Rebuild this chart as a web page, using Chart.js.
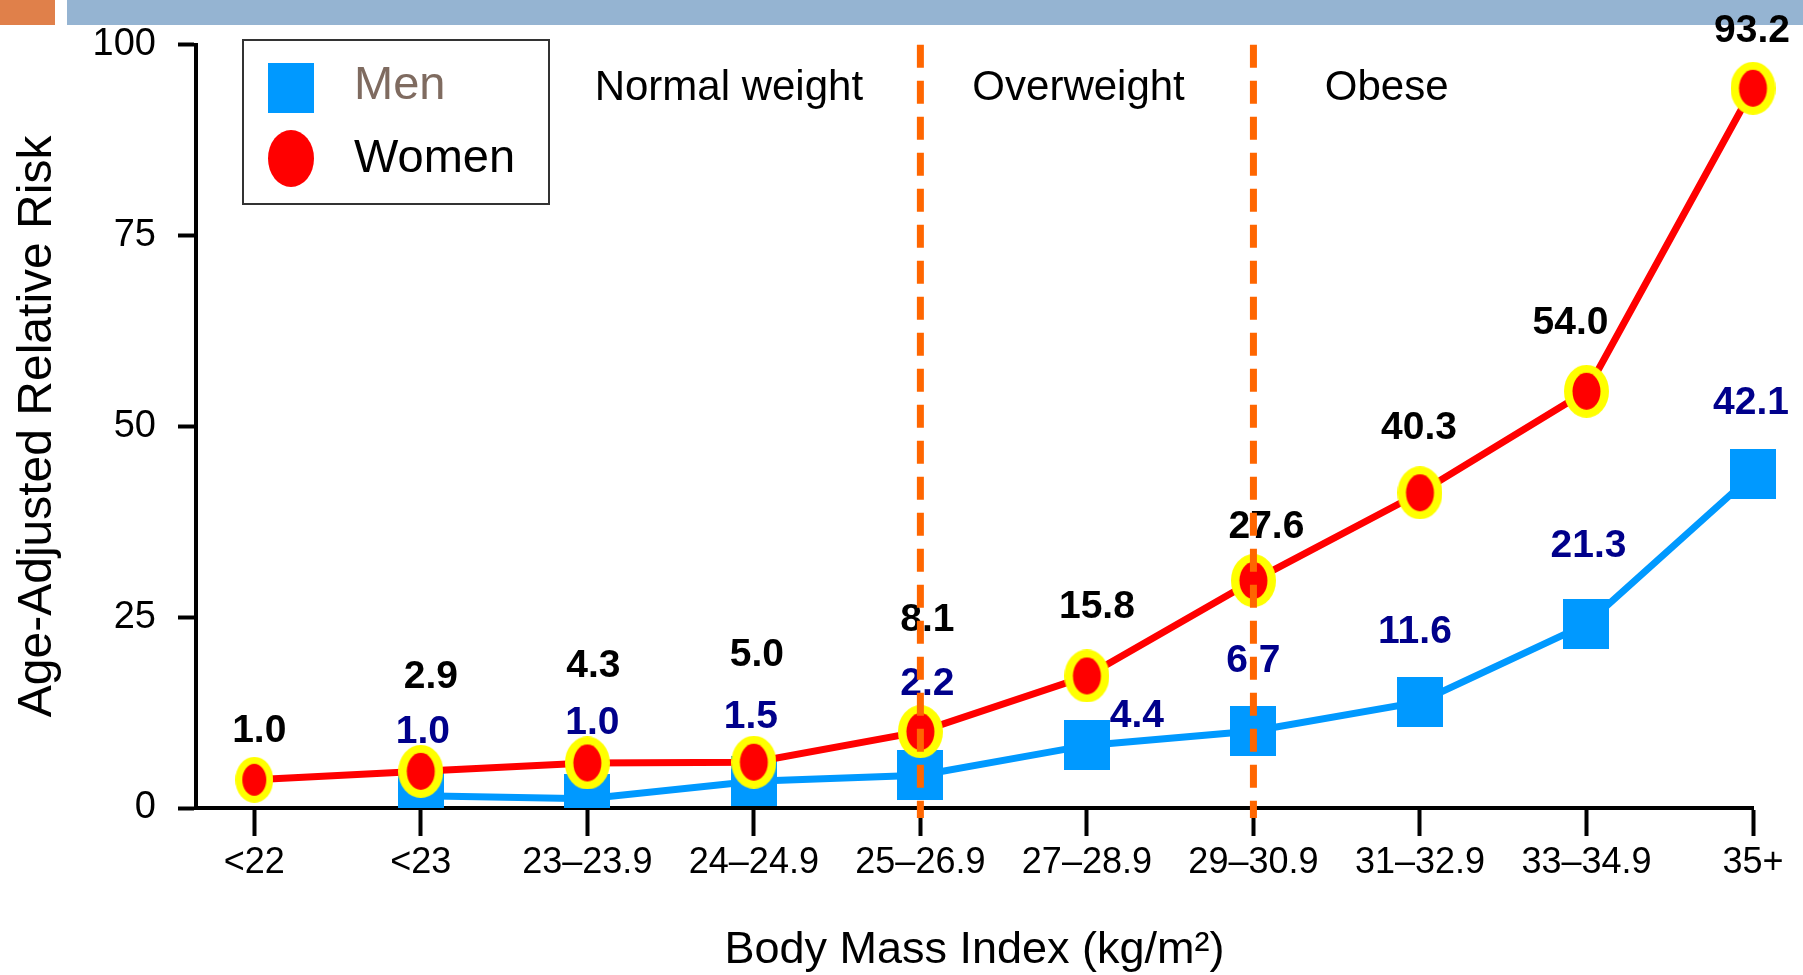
<!DOCTYPE html>
<html>
<head>
<meta charset="utf-8">
<title>BMI and relative risk</title>
<script src="https://cdn.jsdelivr.net/npm/chart.js@4.4.1/dist/chart.umd.min.js"></script>
<style>
    html, body { margin: 0; padding: 0; background: #ffffff; }
    #riskChart { display: block; }
</style>
</head>
<body>
<canvas id="riskChart" width="1803" height="975"></canvas>
<script>
const categories = ['<22', '<23', '23–23.9', '24–24.9', '25–26.9', '27–28.9', '29–30.9', '31–32.9', '33–34.9', '35+'];
// heights as plotted in the picture
const womenRisk = [3.7, 4.8, 5.9, 6.0, 10.0, 17.3, 29.8, 41.3, 54.6, 94.3];
const menRisk = [null, 1.6, 1.2, 3.5, 4.3, 8.2, 10.1, 13.9, 24.1, 43.7];
// printed numbers
const womenLabels = ['1.0', '2.9', '4.3', '5.0', '8.1', '15.8', '27.6', '40.3', '54.0', '93.2'];
const menLabels = [null, '1.0', '1.0', '1.5', '2.2', '4.4', '6.7', '11.6', '21.3', '42.1'];
const yTicks = [0, 25, 50, 75, 100];
const zoneNames = ['Normal weight', 'Overweight', 'Obese'];
const zoneBounds = [4, 6];

// layout / style
const FONT = "'Liberation Sans', Arial, sans-serif";
const zoneCenters = [2.85, 4.95, 6.8];
const womenLabelShift = [[5, -49], [10, -94], [6, -97], [3, -107], [7, -111], [10, -69], [13, -53], [-1, -65], [-16, -68], [-1, -57]];
const menLabelShift = [null, [2, -64], [5, -76], [-3, -64], [7, -91], [50, -29], [0, -70], [-5, -70], [2, -78], [-2, -71]];

function makeWomenMarker(w, h, inW, inH, border) {
    const c = document.createElement('canvas');
    c.width = w;
    c.height = h;
    const g = c.getContext('2d');
    if (border) {
        g.fillStyle = '#ffff00';
        g.beginPath();
        g.ellipse(w / 2, h / 2, w / 2, h / 2, 0, 0, Math.PI * 2);
        g.fill();
    }
    g.fillStyle = '#ff0000';
    g.beginPath();
    g.ellipse(w / 2, h / 2, inW / 2, inH / 2, 0, 0, Math.PI * 2);
    g.fill();
    return c;
}

function makeMenMarker(w, h) {
    const c = document.createElement('canvas');
    c.width = w;
    c.height = h;
    const g = c.getContext('2d');
    g.fillStyle = '#0099ff';
    g.fillRect(0, 0, w, h);
    return c;
}

const womenMarker = makeWomenMarker(45, 53, 28, 37, true);
const womenMarkerSmall = makeWomenMarker(38, 46, 24, 32, true);
const menMarker = makeMenMarker(46, 50);
const legendWomen = makeWomenMarker(46, 57, 46, 57, false);

const slideDecor = {
    id: 'slideDecor',
    beforeDraw(chart) {
        const ctx = chart.ctx;
        ctx.save();
        ctx.fillStyle = '#ffffff';
        ctx.fillRect(0, 0, chart.width, chart.height);
        ctx.fillStyle = '#e0804a';
        ctx.fillRect(0, 0, 55, 25);
        ctx.fillStyle = '#95b4d2';
        ctx.fillRect(67, 0, chart.width - 67, 25);
        ctx.restore();
    },
    afterDatasetsDraw(chart) {
        const ctx = chart.ctx;
        const area = chart.chartArea;
        const xScale = chart.scales.x;
        const women = chart.getDatasetMeta(0).data;
        const men = chart.getDatasetMeta(1).data;

        ctx.save();
        ctx.textAlign = 'center';
        ctx.textBaseline = 'middle';
        ctx.font = 'bold 39px ' + FONT;

        ctx.fillStyle = '#000000';
        women.forEach((pt, i) => {
            const s = womenLabelShift[i];
            ctx.fillText(womenLabels[i], pt.x + s[0], pt.y + s[1]);
        });
        ctx.fillStyle = '#00008b';
        men.forEach((pt, i) => {
            if (!menLabels[i]) return;
            const s = menLabelShift[i];
            ctx.fillText(menLabels[i], pt.x + s[0], pt.y + s[1]);
        });

        // category boundaries
        ctx.strokeStyle = '#ff6600';
        ctx.lineWidth = 7;
        ctx.setLineDash([23, 13]);
        zoneBounds.forEach(b => {
            const x = xScale.getPixelForValue(b);
            ctx.beginPath();
            ctx.moveTo(x, area.top);
            ctx.lineTo(x, area.bottom + 10);
            ctx.stroke();
        });
        ctx.setLineDash([]);

        ctx.fillStyle = '#000000';
        ctx.font = '42px ' + FONT;
        zoneNames.forEach((name, i) => {
            ctx.fillText(name, xScale.getPixelForValue(zoneCenters[i]), area.top + 44);
        });

        // legend
        ctx.strokeStyle = '#333333';
        ctx.lineWidth = 2;
        ctx.strokeRect(243, 40, 306, 164);
        ctx.drawImage(menMarker, 268, 63);
        ctx.drawImage(legendWomen, 268, 130);
        ctx.textAlign = 'left';
        ctx.font = '47px ' + FONT;
        ctx.fillStyle = '#7f6b60';
        ctx.fillText(chart.data.datasets[1].label, 354, 86);
        ctx.fillStyle = '#000000';
        ctx.fillText(chart.data.datasets[0].label, 354, 159);
        ctx.restore();
    }
};

document.addEventListener('DOMContentLoaded', function () {
    const ctx = document.getElementById('riskChart');

    new Chart(ctx, {
        type: 'line',
        data: {
            datasets: [{
                label: 'Women',
                data: womenRisk.map((v, i) => ({ x: i, y: v })),
                borderColor: '#ff0000',
                borderWidth: 7,
                pointStyle: womenRisk.map((v, i) => i === 0 ? womenMarkerSmall : womenMarker),
                pointRadius: 22,
                tension: 0,
                clip: false
            }, {
                label: 'Men',
                data: menRisk.map((v, i) => ({ x: i, y: v })),
                borderColor: '#0099ff',
                borderWidth: 7,
                pointStyle: menMarker,
                pointRadius: 24,
                tension: 0,
                clip: { left: false, top: false, right: false, bottom: 0 }
            }]
        },
        options: {
            responsive: false,
            animation: false,
            layout: {
                padding: { top: 41, right: 50, bottom: 0, left: 0 }
            },
            plugins: {
                legend: { display: false },
                tooltip: { enabled: false }
            },
            scales: {
                x: {
                    type: 'linear',
                    min: -0.35,
                    max: 9,
                    afterBuildTicks: function (scale) {
                        scale.ticks = categories.map((c, i) => ({ value: i }));
                    },
                    afterFit: function (scale) {
                        scale.height = 167;
                    },
                    ticks: {
                        autoSkip: false,
                        maxRotation: 0,
                        padding: 5,
                        color: '#000000',
                        font: { family: FONT, size: 36 },
                        callback: function (value) {
                            return categories[value];
                        }
                    },
                    grid: {
                        drawOnChartArea: false,
                        drawTicks: true,
                        tickLength: 28,
                        tickWidth: 4,
                        tickColor: '#000000'
                    },
                    border: { display: true, color: '#000000', width: 4 },
                    title: {
                        display: true,
                        text: 'Body Mass Index (kg/m²)',
                        color: '#000000',
                        font: { family: FONT, size: 45, lineHeight: 1.1 },
                        padding: { top: 0, bottom: 0 }
                    }
                },
                y: {
                    min: 0,
                    max: 100,
                    afterBuildTicks: function (scale) {
                        scale.ticks = yTicks.map(v => ({ value: v }));
                    },
                    afterFit: function (scale) {
                        scale.width = 196;
                    },
                    ticks: {
                        padding: 22,
                        color: '#000000',
                        font: { family: FONT, size: 38 }
                    },
                    grid: {
                        drawOnChartArea: false,
                        drawTicks: true,
                        tickLength: 18,
                        tickWidth: 4,
                        tickColor: '#000000'
                    },
                    border: { display: true, color: '#000000', width: 4 },
                    title: {
                        display: true,
                        text: 'Age-Adjusted Relative Risk',
                        color: '#000000',
                        font: { family: FONT, size: 48, lineHeight: 1.1 },
                        padding: { top: 11, bottom: 0 }
                    }
                }
            }
        },
        plugins: [slideDecor]
    });
});
</script>
</body>
</html>
